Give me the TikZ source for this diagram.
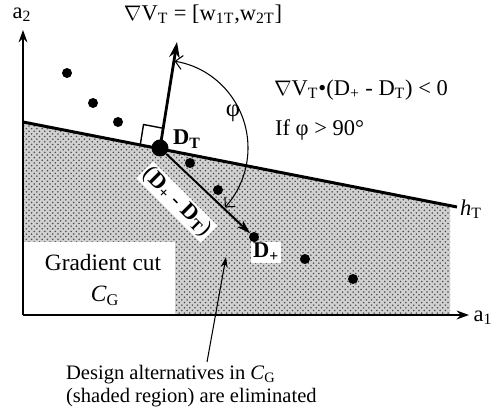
\documentclass[tikz,border=0pt]{standalone}
\usepackage{fontspec}
\setmainfont{Liberation Serif}
\usetikzlibrary{arrows.meta,patterns,calc}
\newcommand\lowidx[1]{\textsubscript{#1}}

\begin{document}
\begin{tikzpicture}[x=0.02cm,y=0.02cm,
    alt/.style={circle,fill=black,inner sep=0pt,minimum size=10*0.02cm},
    lbl/.style={inner sep=1pt,font=\fontsize{12.8}{15}\selectfont}]
  \useasboundingbox (0,0) rectangle (494,408);
  % shaded region (gradient cut)
  \fill[black!18] (23,93) -- (23,286) -- (450,202.4) -- (450,93) -- cycle;
  \fill[pattern=crosshatch dots,pattern color=black!70] (23,93) -- (23,286) -- (450,202.4) -- (450,93) -- cycle;
  \fill[white] (23,93) rectangle (175,166);
  \node[lbl,font=\fontsize{13.3}{15}\selectfont] (cut) at (103,145) {Gradient cut};
  \node[lbl,font=\fontsize{13.3}{15}\selectfont] (cg) at (105,112) {\textit{C}\lowidx{G}};

  % axes
  \coordinate (O) at (23,93);
  \coordinate (A2) at (23,378);
  \coordinate (A1) at (469,93);
  \draw[line width=1.1pt,-{Stealth[length=7pt,width=5pt]}] (O) -- (A2);
  \draw[line width=1.1pt,-{Stealth[length=7pt,width=5pt]}] (O) -- (A1);
  \node[lbl] (a2) at (22,393) {a\lowidx{2}};
  \node[lbl] (a1) at (483,90) {a\lowidx{1}};

  % tangent line h_T
  \coordinate (HL) at (23,286);
  \coordinate (HR) at (457,201);
  \draw[line width=1.7pt] (HL) -- (HR);
  \node[lbl,anchor=west] (hT) at (458,199) {\textit{h}\lowidx{T}};

  % design alternatives
  \node[alt] (d1) at (67,335) {};
  \node[alt] (d2) at (93,305) {};
  \node[alt] (d3) at (118,286) {};
  \node[alt] (d4) at (190,245) {};
  \node[alt] (d5) at (218,218) {};
  \node[alt] (d6) at (305,149) {};
  \node[alt] (d7) at (353,129) {};
  \node[alt] (Dp) at (254,171) {};
  \node[alt,minimum size=17*0.02cm] (DT) at (160,260) {};

  % gradient and direction
  \coordinate (G) at (177,366);
  \draw[line width=1.6pt,-{Stealth[length=9pt,width=6pt]}] (DT.center) -- (G);
  \node[lbl] (grad) at (203,394) {$\nabla$V\lowidx{T} = [w\lowidx{1T},w\lowidx{2T}]};
  \draw[line width=1.1pt,-{Stealth[length=8pt,width=5pt]}] (DT) -- (Dp);

  % right angle mark
  \coordinate (ra) at ($(DT.center)!0.4cm!(HL)$);
  \coordinate (rb) at ($(DT.center)!0.4cm!(G)$);
  \draw[thick] (ra) -- ($(ra)+(rb)-(DT.center)$) -- (rb);

  % angle phi
  \draw[semithick,{Straight Barb[length=4pt]}-{Straight Barb[length=4pt]}]
    ($(DT.center)+(80.5:88)$) arc[start angle=80.5,end angle=-42.5,radius=88];
  \node[lbl,font=\fontsize{14}{16}\selectfont] (phi) at (233,295) {φ};

  % labels
  \node[lbl,anchor=base west] (DTl) at (171,263) {\textbf{D\lowidx{T}}};
  \node[lbl,anchor=base west,fill=white] (Dpl) at (251,150) {\textbf{D\lowidx{+}}};
  \node[lbl,fill=white,rotate=-45] (diff) at (177,206)
    {(\textbf{D\lowidx{+}} - \textbf{D\lowidx{T}})};
  \node[lbl,anchor=west] (cond) at (272,318) {$\nabla$V\lowidx{T}•(D\lowidx{+} - D\lowidx{T}) < 0};
  \node[lbl,anchor=west] (ifphi) at (273,278) {If φ > 90°};

  % note on the eliminated region
  \node[lbl,anchor=west,align=left,font=\fontsize{11.7}{13}\selectfont] (note) at (64,22)
    {Design alternatives in \textit{C}\lowidx{G}\\(shaded region) are eliminated};
  \coordinate (tail) at (207,46);
  \coordinate (tip) at (226,151);
  \draw[semithick,-{Stealth[length=6pt,width=4pt]}] (tail) -- (tip);
\end{tikzpicture}
\end{document}
